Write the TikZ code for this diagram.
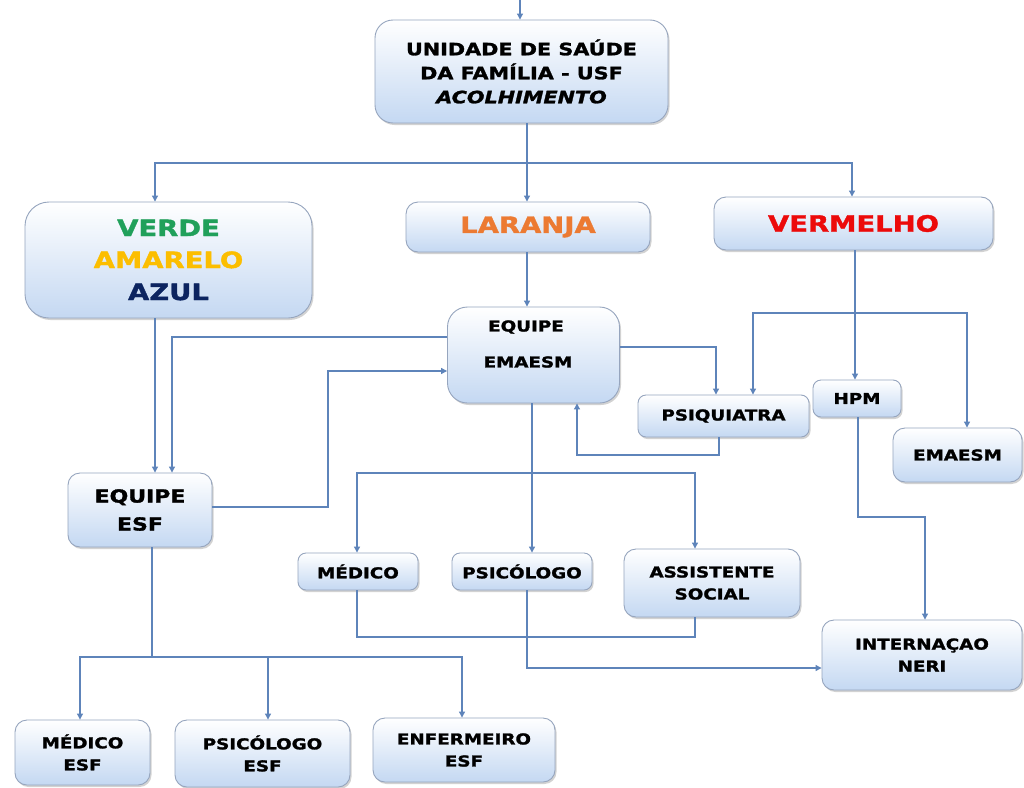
\documentclass[tikz,border=0pt]{standalone}
\usepackage{fontspec}
\setmainfont{DejaVu Sans}[FakeStretch=1.22, BoldFeatures={FakeBold=1.6}, BoldItalicFeatures={FakeBold=1.6}]
\usetikzlibrary{shadows,arrows.meta}
\definecolor{lineblue}{RGB}{94,132,186}
\definecolor{boxedge}{RGB}{150,165,190}
\definecolor{boxbot}{RGB}{196,216,242}
\definecolor{cverde}{RGB}{32,160,90}
\definecolor{camarelo}{RGB}{252,190,0}
\definecolor{cazul}{RGB}{12,36,96}
\definecolor{claranja}{RGB}{236,122,50}
\definecolor{cverm}{RGB}{236,10,10}
\tikzset{
  box/.style={draw=boxedge, line width=0.9pt, rounded corners=12pt, top color=white, bottom color=boxbot,
    drop shadow={shadow xshift=1.5pt, shadow yshift=-2pt, opacity=0.35, fill=gray},
    inner sep=0pt, align=center, font=\bfseries\fontsize{15}{22}\selectfont},
  conn/.style={draw=lineblue, line width=1.1pt},
  arr/.style={conn, -{Triangle[length=6pt,width=6pt]}},
}
\begin{document}
\begin{tikzpicture}[x=1pt,y=-1pt]
\useasboundingbox (0,0) rectangle (1024,787);
\fill[white] (0,0) rectangle (1024,787);

% boxes
\node[box, minimum width=293pt, minimum height=103pt, rounded corners=18pt, font=\bfseries\fontsize{17}{24}\selectfont] (top) at (521.5,71.5)
  {UNIDADE DE SAÚDE\\DA FAMÍLIA - USF\\\itshape ACOLHIMENTO};
\node[box, minimum width=287pt, minimum height=116pt, rounded corners=24pt, font=\bfseries\fontsize{22.5}{32}\selectfont] (verde) at (168.5,260)
  {\textcolor{cverde}{VERDE}\\\textcolor{camarelo}{AMARELO}\\\textcolor{cazul}{AZUL}};
\node[box, minimum width=244pt, minimum height=50pt, font=\bfseries\fontsize{22.5}{26}\selectfont, text=claranja] (laranja) at (528,227) {LARANJA};
\node[box, minimum width=279pt, minimum height=53pt, font=\bfseries\fontsize{22.5}{26}\selectfont, text=cverm] (verm) at (853.5,223.5) {VERMELHO};
\node[box, minimum width=172pt, minimum height=96pt, rounded corners=20pt] (emaesm) at (533.5,355) {};
\node[font=\bfseries\fontsize{15}{18}\selectfont] (emaesmA) at (526,327) {EQUIPE};
\node[font=\bfseries\fontsize{15}{18}\selectfont] (emaesmB) at (528,362) {EMAESM};
\node[box, minimum width=144pt, minimum height=74pt, font=\bfseries\fontsize{18}{28}\selectfont] (esf) at (140,510) {EQUIPE\\ESF};
\node[box, minimum width=171pt, minimum height=42pt, rounded corners=8pt] (psiq) at (723.5,416) {PSIQUIATRA};
\node[box, minimum width=88pt, minimum height=37pt, rounded corners=8pt] (hpm) at (857,398.5) {HPM};
\node[box, minimum width=129pt, minimum height=54pt] (emaesm2) at (957.5,455) {EMAESM};
\node[box, minimum width=120pt, minimum height=37pt, rounded corners=8pt] (medico) at (358,571.5) {MÉDICO};
\node[box, minimum width=140pt, minimum height=37pt, rounded corners=8pt] (psico) at (522,571.5) {PSICÓLOGO};
\node[box, minimum width=176pt, minimum height=68pt] (assist) at (712,583) {ASSISTENTE\\SOCIAL};
\node[box, minimum width=200pt, minimum height=70pt] (intern) at (922,655) {INTERNAÇAO\\NERI};
\node[box, minimum width=135pt, minimum height=65pt] (medesf) at (82.5,752.5) {MÉDICO\\ESF};
\node[box, minimum width=175pt, minimum height=67pt] (psiesf) at (262.5,753.5) {PSICÓLOGO\\ESF};
\node[box, minimum width=182pt, minimum height=64pt] (enfesf) at (464,750) {ENFERMEIRO\\ESF};

% helper coordinates
\coordinate (in) at (520,0);
\coordinate (bus1) at (527,163);
\coordinate (bus2) at (357,473);
\coordinate (bus3) at (152,657);

% connectors
\draw[arr] (in) -- (top.north -| in);
\draw[conn] (top.south -| bus1) -- (bus1);
\draw[arr] (bus1) -- (laranja.north -| bus1);
\draw[arr] (bus1) -| (155,200) -- (verde.north -| 155,0);
\draw[arr] (bus1) -| (verm.north -| 852,0);

\draw[arr] (laranja.south -| 527,0) -- (emaesm.north -| 527,0);
\draw[arr] (verde.south -| 155,0) -- (esf.north -| 155,0);
\draw[arr] (emaesm.west |- 0,337) -| (esf.north -| 172,0);
\draw[arr] (esf.east |- 0,507) -| (328,371) -- (emaesm.west |- 0,371);
\draw[arr] (emaesm.east |- 0,347) -| (psiq.north -| 716,0);
\draw[arr] (verm.south -| 855,0) -- (hpm.north -| 855,0);
\draw[arr] (855,313) -| (psiq.north -| 753,0);
\draw[arr] (855,313) -| (emaesm2.north -| 967,0);
\draw[arr] (psiq.south -| 719,0) |- (577,455) -- (emaesm.south -| 577,0);

\draw[arr] (emaesm.south -| 532,0) -- (psico.north -| 532,0);
\draw[arr] (532,473) -| (medico.north -| bus2);
\draw[arr] (532,473) -| (assist.north -| 695,0);
\draw[conn] (medico.south -| bus2) |- (695,637) -- (assist.south -| 695,0);
\draw[arr] (psico.south -| 527,0) |- (intern.west |- 0,668);
\draw[arr] (hpm.south -| 858,0) |- (925,517) -- (intern.north -| 925,0);

\draw[conn] (esf.south -| bus3) -- (bus3);
\draw[arr] (bus3) -| (medesf.north -| 80,0);
\draw[arr] (bus3) -| (psiesf.north -| 268,0);
\draw[arr] (bus3) -| (enfesf.north -| 462,0);
\end{tikzpicture}
\end{document}
